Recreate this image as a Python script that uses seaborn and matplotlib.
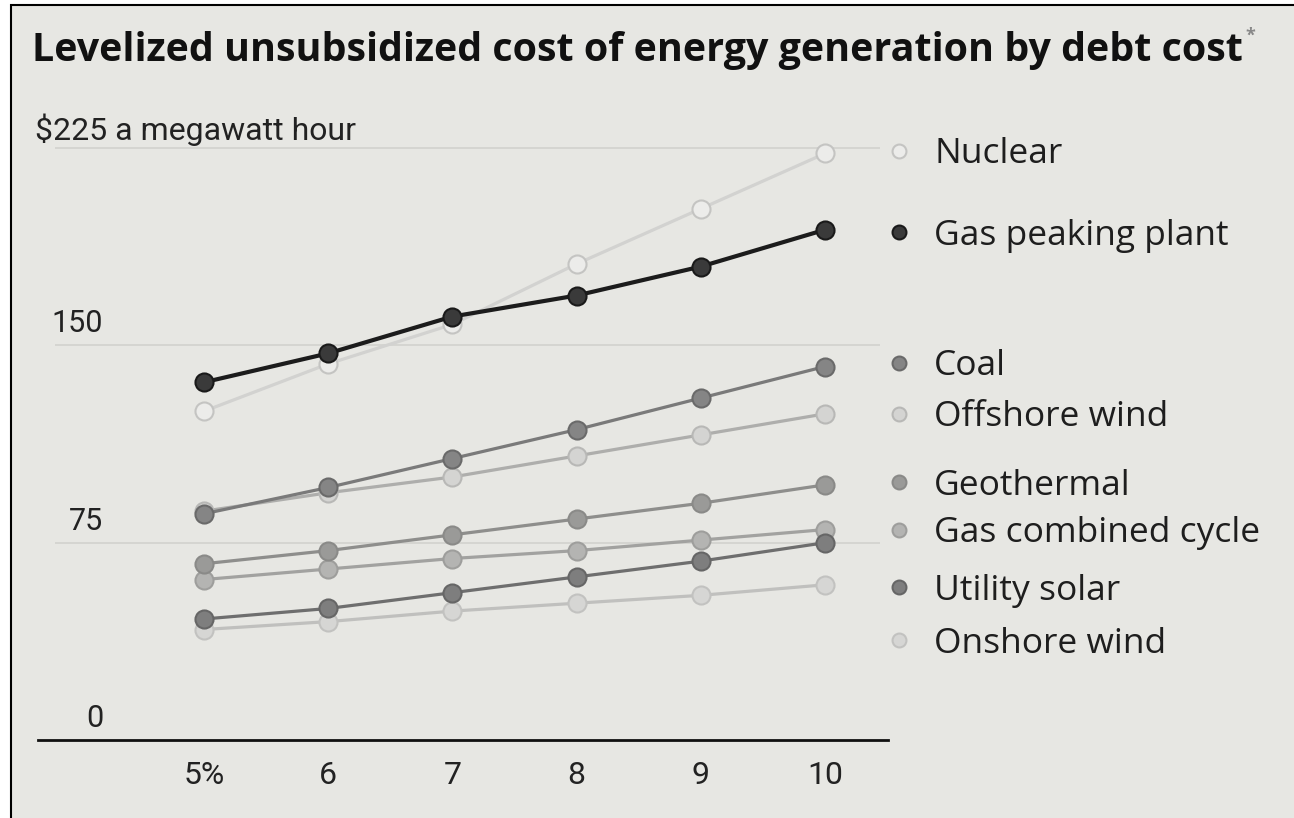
import numpy as np
import pandas as pd
import seaborn as sns
import matplotlib.pyplot as plt
from matplotlib.patches import Rectangle

# debt cost (%) on x, $ per MWh on y
debt_cost = [5, 6, 7, 8, 9, 10]
x_labels = ["5%", "6", "7", "8", "9", "10"]

nuclear = [125, 143, 158, 181, 202, 223]
gas_peaking = [136, 147, 161, 169, 180, 194]
coal = [86, 96, 107, 118, 130, 142]
offshore_wind = [87, 94, 100, 108, 116, 124]
geothermal = [67, 72, 78, 84, 90, 97]
gas_combined = [61, 65, 69, 72, 76, 80]
utility_solar = [46, 50, 56, 62, 68, 75]
onshore_wind = [42, 45, 49, 52, 55, 59]

names = ["Nuclear", "Gas peaking plant", "Coal", "Offshore wind",
         "Geothermal", "Gas combined cycle", "Utility solar", "Onshore wind"]
series = [nuclear, gas_peaking, coal, offshore_wind,
          geothermal, gas_combined, utility_solar, onshore_wind]

# (line colour, marker face, marker edge)
styles = {
    "Nuclear": ("#d2d2d0", "#ececea", "#c4c4c2"),
    "Gas peaking plant": ("#1c1c1c", "#3a3a3a", "#1a1a1a"),
    "Coal": ("#7a7a7a", "#858585", "#6a6a6a"),
    "Offshore wind": ("#aeaeac", "#d4d4d2", "#b8b8b6"),
    "Geothermal": ("#8e8e8c", "#9a9a98", "#8a8a88"),
    "Gas combined cycle": ("#a2a2a0", "#b4b4b2", "#9e9e9c"),
    "Utility solar": ("#6e6e6e", "#7e7e7e", "#666666"),
    "Onshore wind": ("#c0c0be", "#d6d6d4", "#c2c2c0"),
}
legend_y = [224, 193, 143.5, 124, 98, 80, 58, 38]

df = pd.DataFrame({"debt": debt_cost * len(names),
                   "cost": np.concatenate(series),
                   "source": np.repeat(names, len(debt_cost))})

sns.set_style("white")
plt.rcParams["font.family"] = ["Open Sans", "DejaVu Sans"]
narrow = ["Roboto", "DejaVu Sans"]

bg = "#e7e7e3"
fig = plt.figure(figsize=(12.94, 8.18), dpi=100, facecolor="white")
fig.patches.append(Rectangle((0.0085, -0.05), 1.2, 1.044, transform=fig.transFigure,
                             facecolor=bg, edgecolor="black", linewidth=1.5, zorder=-5))
ax = fig.add_axes([0.0294, 0.0954, 0.6568, 0.770])
ax.set_facecolor("none")

draw_order = ["Onshore wind", "Gas combined cycle", "Offshore wind", "Nuclear",
              "Geothermal", "Utility solar", "Coal", "Gas peaking plant"]
for name in draw_order:
    lc, fc, ec = styles[name]
    lw = 3 if name == "Gas peaking plant" else 2.3
    sns.lineplot(data=df[df["source"] == name], x="debt", y="cost", ax=ax,
                 color=lc, linewidth=lw, marker="o", markersize=13,
                 markerfacecolor=fc, markeredgecolor=ec, markeredgewidth=1.5,
                 legend=False, clip_on=False)

ax.set_xlim(3.664, 10.507)
ax.set_ylim(0, 239.5)
for v in [75, 150, 225]:
    ax.hlines(v, 3.8, 10.44, color="#d2d2ce", linewidth=1.2, zorder=0)

sns.despine(ax=ax, left=True, top=True, right=True)
ax.spines["bottom"].set_color("#111111")
ax.spines["bottom"].set_linewidth(2)
ax.set_xticks(debt_cost)
ax.set_xticklabels(x_labels, family=narrow, fontsize=23, color="#222222")
ax.tick_params(axis="x", direction="out", length=7, width=1.8, color="#111111", pad=8)
ax.set_yticks([])
ax.set_xlabel("")
ax.set_ylabel("")

ax.text(3.64, 228, "$225 a megawatt hour", family=narrow, fontsize=23, color="#222222")
for v in [150, 75, 0]:
    ax.text(4.19, v + 5, str(v), family=narrow, fontsize=22, color="#222222", ha="right")

for name, ly in zip(names, legend_y):
    lc, fc, ec = styles[name]
    ax.plot([10.6], [ly], marker="o", markersize=10, markerfacecolor=fc,
            markeredgecolor=ec, markeredgewidth=1.5, clip_on=False, linestyle="none")
    ax.text(10.88, ly - 4.8, name, fontsize=25.5, color="#1e1e1e", va="baseline")

title = fig.text(0.025, 0.926, "Levelized unsubsidized cost of energy generation by debt cost",
                 fontsize=28.4, fontweight="bold", color="#111111", va="baseline")
fig.canvas.draw()
bb = title.get_window_extent()
fig.text(bb.x1 / fig.bbox.width + 0.002, 0.95, "*", fontsize=13, fontweight="bold",
         color="#888888")

fig.savefig("out.png", dpi=100, facecolor=fig.get_facecolor())
